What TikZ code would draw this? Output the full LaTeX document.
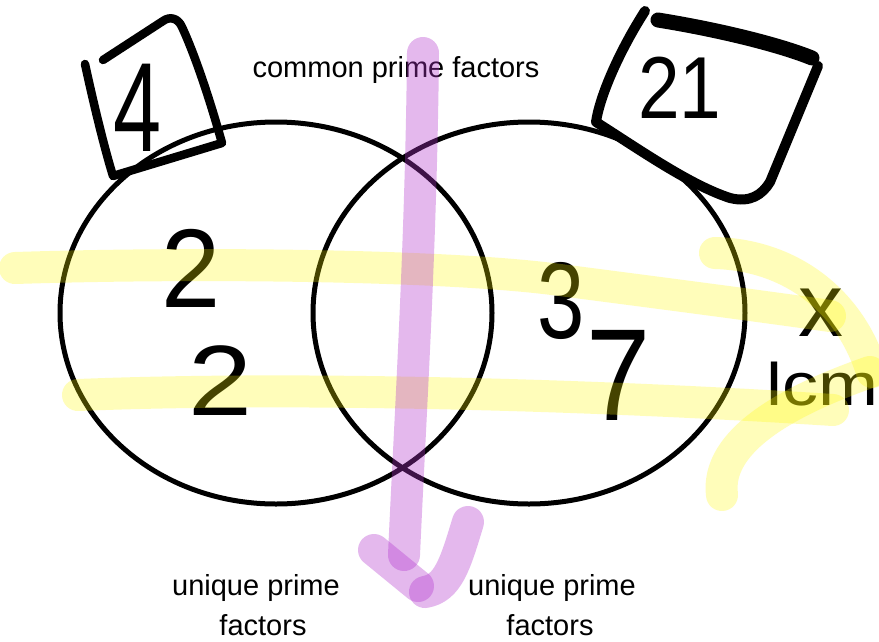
\documentclass[tikz,border=0pt]{standalone}
\usepackage{fontspec}
\setmainfont{Liberation Sans}
\usetikzlibrary{shapes.geometric}
\definecolor{hlyellow}{RGB}{255,250,0}
\definecolor{hlpurple}{RGB}{178,52,206}
\begin{document}
\begin{tikzpicture}[x=1pt,y=-1pt,
  setcircle/.style={draw=black, line width=5pt, ellipse, minimum width=432pt, minimum height=382pt, inner sep=0pt},
  hand/.style={draw=black, line cap=round, line join=round},
  digit/.style={inner sep=0pt, text=black},
  label/.style={font=\fontsize{29}{34}\selectfont, inner sep=0pt, anchor=base},
  yhl/.style={draw=hlyellow, draw opacity=0.27, line width=32pt, line cap=round, line join=round},
  phl/.style={draw=hlpurple, draw opacity=0.35, line width=32pt, line cap=round, line join=round}]
\useasboundingbox (0,0) rectangle (879,641);
\fill[white] (0,0) rectangle (879,641);

% the two sets
\node[setcircle] (L) at (276,313) {};
\node[setcircle] (R) at (529,313) {};

% box round 4
\draw[hand, line width=8.5pt] (85,64) .. controls (95,110) and (105,150) .. (113,176) -- (222,143)
  .. controls (210,100) and (195,55) .. (182,27) .. controls (178,18) and (170,16) .. (163,21) -- (103,60);
% box round 21
\draw[hand, line width=10pt] (645,11) .. controls (620,50) and (600,95) .. (596,122)
  .. controls (640,150) and (690,185) .. (730,198) .. controls (750,203) and (762,195) .. (770,182) -- (818,66);
\draw[hand, line width=15pt] (658,20) .. controls (720,30) and (780,45) .. (812,58);

% handwritten numbers
\node[digit, font=\fontsize{127}{127}\selectfont, xscale=0.68] (n4) at (138,108) {4};
\node[digit, font=\fontsize{88}{88}\selectfont, xscale=0.85] (n21) at (680,88) {21};
\node[digit, font=\fontsize{112}{112}\selectfont, xscale=0.95] (a2) at (191,268) {2};
\node[digit, font=\fontsize{100}{100}\selectfont, xscale=1.15] (b2) at (220,381) {2};
\node[digit, font=\fontsize{109}{109}\selectfont, xscale=0.78] (c3) at (561,301) {3};
\node[digit, font=\fontsize{131}{131}\selectfont, xscale=0.88] (d7) at (619,375) {7};
\node[digit, font=\fontsize{90}{90}\selectfont] (times) at (821,313) {x};
\node[digit, font=\fontsize{60}{60}\selectfont, xscale=1.2, anchor=base] (lcm) at (822,405) {lcm};

% printed labels
\node[label] (top) at (396,77) {common prime factors};
\node[label] (ul1) at (256,595) {unique prime};
\node[label] (ul2) at (263,635) {factors};
\node[label] (ur1) at (552,595) {unique prime};
\node[label] (ur2) at (550,635) {factors};

% yellow highlighter arrow
\draw[yhl] (15,268) .. controls (200,262) and (450,265) .. (560,280) .. controls (660,293) and (760,306) .. (830,316);
\draw[yhl] (78,395) .. controls (300,386) and (600,395) .. (833,410);
\draw[yhl] (715,253) .. controls (790,255) and (850,300) .. (872,372);
\draw[yhl] (870,372) .. controls (790,400) and (715,440) .. (722,495);

% purple highlighter arrow
\draw[phl] (423,53) .. controls (421,250) and (410,420) .. (404,555);
\draw[phl] (374,550) -- (418,586);
\draw[phl] (468,522) .. controls (455,565) and (448,588) .. (425,592);
\end{tikzpicture}
\end{document}
